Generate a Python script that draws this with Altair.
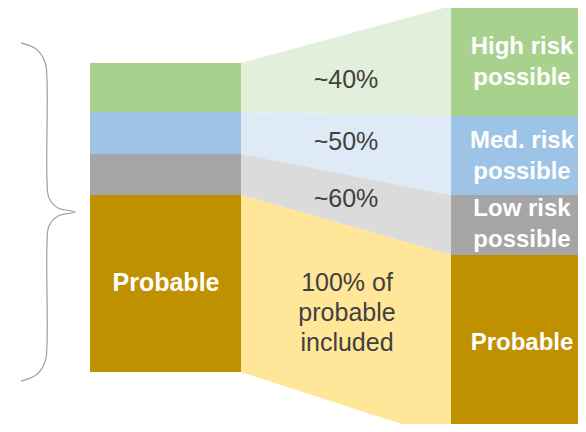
import altair as alt
import pandas as pd

# ---- data ----
segments = ["High risk", "Med. risk", "Low risk", "Probable"]
dark_colors = ["#A9D18E", "#9DC3E6", "#A5A5A5", "#BF9000"]
light_colors = ["#E2EFDA", "#DEEBF7", "#DBDBDB", "#FFE699"]

left_x = [90, 241]
right_x = [451, 600]
left_edges = [63, 112, 154, 195, 372]
right_edges = [6, 116, 195, 255, 440]

mid_labels = ["~40%", "~50%", "~60%", "100% of\nprobable\nincluded"]
mid_label_x = [346, 346, 346, 347]
mid_label_y = [80, 142, 199, 283]

right_labels = ["High risk\npossible", "Med. risk\npossible", "Low risk\npossible", "Probable"]
right_label_x = [522, 522, 522, 522]
right_label_y = [47, 141, 209, 343]

left_labels = ["Probable"]
left_label_x = [166]
left_label_y = [283]

brace_x = [21, 36, 45, 47, 47, 49, 58, 75, 58, 49, 47, 47, 45, 36, 21]
brace_y = [43, 49, 62, 80, 180, 198, 208, 212, 216, 226, 244, 344, 362, 375, 381]

# ---- tables ----
W, H = 570, 416
xs = alt.Scale(domain=[8, 8 + W], nice=False, zero=False)
ys = alt.Scale(domain=[8, 8 + H], nice=False, zero=False, reverse=True)

rect_rows = []
for i, s in enumerate(segments):
    rect_rows.append(dict(seg=s, x=left_x[0], x2=left_x[1], y=left_edges[i], y2=left_edges[i + 1], c=dark_colors[i]))
    rect_rows.append(dict(seg=s + " R", x=right_x[0], x2=right_x[1], y=right_edges[i], y2=right_edges[i + 1], c=dark_colors[i]))
rect_df = pd.DataFrame(rect_rows)

area_rows = []
for i, s in enumerate(segments):
    area_rows.append(dict(seg=s, x=left_x[1], top=left_edges[i], bot=left_edges[i + 1], c=light_colors[i]))
    area_rows.append(dict(seg=s, x=right_x[0], top=right_edges[i], bot=right_edges[i + 1], c=light_colors[i]))
area_df = pd.DataFrame(area_rows)

mid_df = pd.DataFrame(dict(t=mid_labels, x=mid_label_x, y=mid_label_y))
right_df = pd.DataFrame(dict(t=right_labels, x=right_label_x, y=right_label_y))
left_df = pd.DataFrame(dict(t=left_labels, x=left_label_x, y=left_label_y))
brace_df = pd.DataFrame(dict(x=brace_x, y=brace_y, o=list(range(len(brace_x)))))

X = lambda f: alt.X(f, type="quantitative", scale=xs, axis=None)
Y = lambda f: alt.Y(f, type="quantitative", scale=ys, axis=None)

areas = alt.Chart(area_df).mark_area(clip=True).encode(
    x=X("x"), y=Y("top"), y2="bot",
    color=alt.Color("c:N", scale=None), detail="seg:N",
)

rects = alt.Chart(rect_df).mark_rect(clip=True).encode(
    x=X("x"), x2="x2", y=Y("y"), y2="y2",
    color=alt.Color("c:N", scale=None),
)

brace = alt.Chart(brace_df).mark_line(
    interpolate="catmull-rom", color="#A6A6A6", strokeWidth=1.3, clip=True
).encode(x=X("x"), y=Y("y"), order="o:Q")

mid_text = alt.Chart(mid_df).mark_text(
    font="Liberation Sans", fontSize=25, color="#404040",
    lineBreak="\n", lineHeight=30, align="center", baseline="middle",
).encode(x=X("x"), y=Y("y"), text="t:N")

right_text = alt.Chart(right_df).mark_text(
    font="Liberation Sans", fontSize=24, fontWeight="bold", color="white",
    lineBreak="\n", lineHeight=31, align="center", baseline="middle",
).encode(x=X("x"), y=Y("y"), text="t:N")

left_text = alt.Chart(left_df).mark_text(
    font="Liberation Sans", fontSize=25, fontWeight="bold", color="white",
    align="center", baseline="middle",
).encode(x=X("x"), y=Y("y"), text="t:N")

chart = alt.layer(areas, rects, brace, mid_text, right_text, left_text).properties(
    width=W, height=H, padding=0, autosize=alt.AutoSizeParams(type="none"),
).configure_view(stroke=None)

chart.save("out.html", embed_options={"renderer": "svg", "actions": False})
